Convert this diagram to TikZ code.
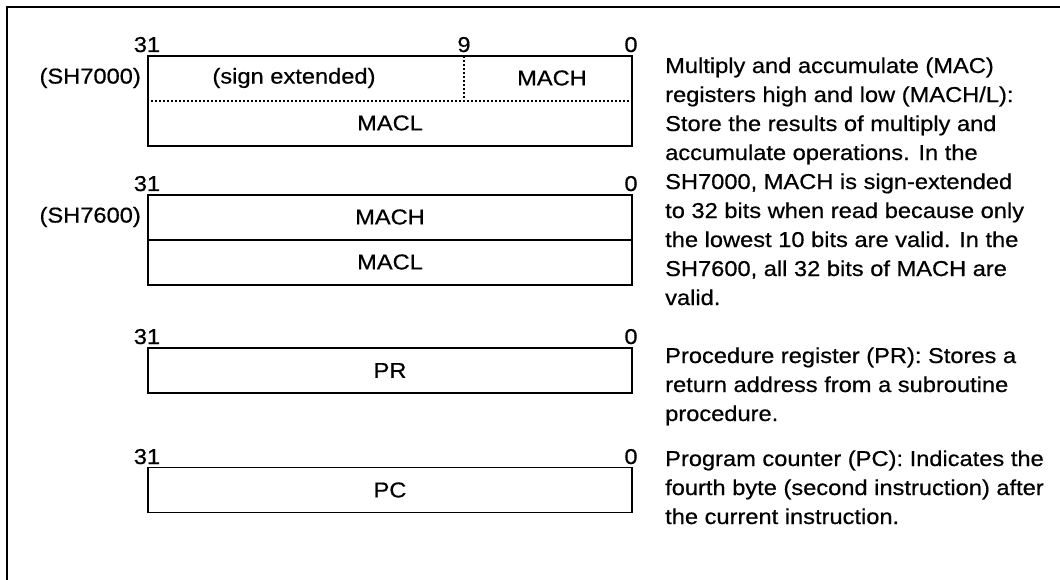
\documentclass[tikz,border=0pt]{standalone}
\usepackage{fontspec}
\setmainfont{Liberation Sans}[FakeStretch=1.1, FakeBold=0.6]
\usepackage{tikz}

\begin{document}
\begin{tikzpicture}[x=1pt, y=-1pt, every node/.style={font=\fontsize{21.5}{29}\selectfont, inner sep=0pt},
  reg/.style={draw, line width=1.6pt, rectangle, minimum width=484pt},
  bitno/.style={anchor=base},
  dots/.style={line width=2.2pt, dash pattern=on 2pt off 2pt},
  desc/.style={anchor=base west, align=left}]
  \useasboundingbox (0,0) rectangle (1060,580);
  % frame
  \draw[line width=2pt] (1060,7) -- (7,7) -- (7,580);

  % MACH/MACL (SH7000)
  \node[reg, minimum height=90pt] (R1) at (390,101) {};
  \node[anchor=east] (L1) at (141,78) {(SH7000)};
  \node (S1) at (294,78) {(sign extended)};
  \node (H1) at (552,78) {MACH};
  \node (M1) at (390,123) {MACL};
  \coordinate (B9) at (464,56);
  \draw[dots] (R1.west) -- (R1.east);
  \draw[dots] (B9) -- (B9 |- R1.center);
  \node[bitno] (T1a) at (147,52) {31};
  \node[bitno] (T1b) at (464,52) {9};
  \node[bitno] (T1c) at (631,52) {0};

  % MACH/MACL (SH7600)
  \node[reg, minimum height=90pt] (R2) at (390,240) {};
  \node[anchor=east] (L2) at (141,217) {(SH7600)};
  \node (H2) at (390,217) {MACH};
  \node (M2) at (390,262) {MACL};
  \draw[line width=1.6pt] (R2.west) -- (R2.east);
  \node[bitno] (T2a) at (147,191) {31};
  \node[bitno] (T2c) at (631,191) {0};

  % PR
  \node[reg, minimum height=45pt] (R3) at (390,370.5) {PR};
  \node[bitno] (T3a) at (147,344) {31};
  \node[bitno] (T3c) at (631,344) {0};

  % PC
  \node[reg, minimum height=45pt] (R4) at (390,490) {PC};
  \node[bitno] (T4a) at (147,464) {31};
  \node[bitno] (T4c) at (631,464) {0};

  % descriptions (base = last line)
  \node[desc] (D1) at (665,305) {Multiply and accumulate (MAC)\\
    registers high and low (MACH/L):\\
    Store the results of multiply and\\
    accumulate operations. In the\\
    SH7000, MACH is sign-extended\\
    to 32 bits when read because only\\
    the lowest 10 bits are valid. In the\\
    SH7600, all 32 bits of MACH are\\
    valid.};
  \node[desc] (D2) at (665,421) {Procedure register (PR): Stores a\\
    return address from a subroutine\\
    procedure.};
  \node[desc] (D3) at (665,524) {Program counter (PC): Indicates the\\
    fourth byte (second instruction) after\\
    the current instruction.};
\end{tikzpicture}
\end{document}
